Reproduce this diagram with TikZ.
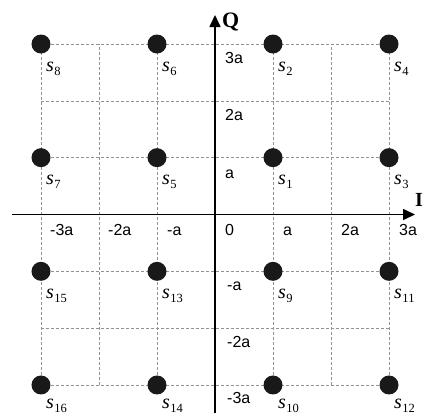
\documentclass[tikz,border=0pt]{standalone}
\usepackage{fontspec}
\setmainfont{Liberation Serif}
\newfontfamily\ticksf{Liberation Sans}
\usetikzlibrary{arrows.meta}
\begin{document}
\begin{tikzpicture}[x=1pt,y=1pt,
  gridline/.style={gray!85, dash pattern=on 3pt off 2pt, line width=0.6pt},
  axisline/.style={line width=1.6pt, -{Triangle[length=12pt,width=11pt]}},
  dot/.style={circle, fill=black!90, inner sep=0pt, minimum size=19pt},
  slab/.style={anchor=base west, inner sep=0pt, font=\fontsize{20}{20}\selectfont},
  ticklab/.style={anchor=base west, inner sep=0pt, font=\ticksf\fontsize{16}{16}\selectfont},
  axlab/.style={anchor=base west, inner sep=0pt, font=\bfseries\fontsize{22}{22}\selectfont}]
\def\ax{58}
\def\ay{56.83}
\useasboundingbox (-215,-203.5) rectangle (210,214.5);
% grid
\foreach \k in {-3,-2,-1,1,2,3}{
  \draw[gridline] (\k*\ax,-3*\ay) -- (\k*\ax,3*\ay);
  \draw[gridline] (-3*\ax,\k*\ay) -- (3*\ax,\k*\ay);
}
% axes
\coordinate (xl) at (-203,0);
\coordinate (xr) at (200,0);
\coordinate (yb) at (0,-198.5);
\coordinate (yt) at (0,199.5);
\draw[axisline] (xl) -- (xr);
\draw[axisline] (yb) -- (yt);
\node[axlab] (Qlab) at (7,187.5) {Q};
\node[axlab, font=\bfseries\fontsize{20}{20}\selectfont] (Ilab) at (200,8.5) {I};
% tick labels on I axis
\node[ticklab] (t0) at (10,-20.5) {0};
\node[ticklab] (tx1) at (\ax+10,-20.5) {a};
\node[ticklab] (tx2) at (2*\ax+10,-20.5) {2a};
\node[ticklab] (tx3) at (3*\ax+10,-20.5) {3a};
\node[ticklab] (txm1) at (-\ax+10,-20.5) {-a};
\node[ticklab] (txm2) at (-2*\ax+9,-20.5) {-2a};
\node[ticklab] (txm3) at (-3*\ax+9,-20.5) {-3a};
% tick labels on Q axis
\node[ticklab] (ty3) at (10,3*\ay-19.5) {3a};
\node[ticklab] (ty2) at (10,2*\ay-19.5) {2a};
\node[ticklab] (ty1) at (10,\ay-20.5) {a};
\node[ticklab] (tym1) at (12,-\ay-19.5) {-a};
\node[ticklab] (tym2) at (12,-2*\ay-19.5) {-2a};
\node[ticklab] (tym3) at (12,-3*\ay-18.5) {-3a};
% constellation points
\foreach \n/\i/\q/\d in {1/1/1/27,2/1/3/27,3/3/1/27,4/3/3/27,5/-1/1/27,6/-1/3/27,7/-3/1/27,8/-3/3/27,
                      9/1/-1/27,10/1/-3/23.5,11/3/-1/27,12/3/-3/23.5,13/-1/-1/27,14/-1/-3/23.5,15/-3/-1/27,16/-3/-3/23.5}{
  \node[dot] (s\n) at (\i*\ax,\q*\ay) {};
  \node[slab] (l\n) at (\i*\ax+5,\q*\ay-\d) {\textit{s}\kern0.5pt\raisebox{-4pt}{\fontsize{12.5}{12.5}\selectfont \n}};
}
\end{tikzpicture}
\end{document}
